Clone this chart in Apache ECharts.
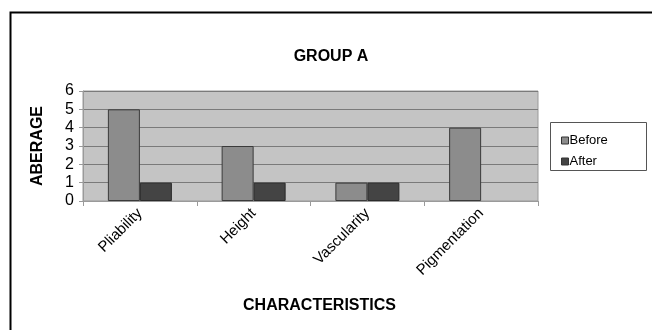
<!DOCTYPE html>
<html>
<head>
<meta charset="utf-8">
<script src="https://cdn.jsdelivr.net/npm/echarts@6/dist/echarts.min.js"></script>
<style>
  html, body { margin: 0; padding: 0; background: #fff; }
  #chart { width: 652px; height: 330px; }
</style>
</head>
<body>
<div id="chart"></div>
<script>
// Scar characteristics, mean scores before and after treatment
const categories = ['Pliability', 'Height', 'Vascularity', 'Pigmentation'];
const beforeValues = [5, 3, 1, 4];
const afterValues = [1, 1, 1, 0];
const yTicks = [0, 1, 2, 3, 4, 5, 6];

const chart = echarts.init(document.getElementById('chart'), null, { renderer: 'canvas' });

const font = 'Arial, "Liberation Sans", sans-serif';

// zero-height bars are left undrawn (no outline)
const asBarData = values => values.map(v => (v === 0 ? { value: v, itemStyle: { borderWidth: 0, opacity: 0 } } : v));

chart.setOption({
  animation: false,
  backgroundColor: '#ffffff',
  title: {
    text: 'GROUP A',
    left: 326,
    top: 44,
    textAlign: 'center',
    textStyle: { fontFamily: font, fontSize: 16, fontWeight: 'bold', color: '#000' }
  },
  legend: {
    orient: 'vertical',
    left: 556,
    top: 129,
    itemWidth: 7,
    itemHeight: 7,
    itemGap: 8,
    icon: 'rect',
    itemStyle: { borderColor: '#333', borderWidth: 1 },
    textStyle: { fontFamily: font, fontSize: 13, color: '#000', padding: [0, 0, 0, -4] },
    data: ['Before', 'After']
  },
  grid: {
    left: 83,
    top: 91,
    width: 455,
    height: 110,
    show: true,
    backgroundColor: '#c4c4c4',
    borderColor: '#9a9a9a',
    borderWidth: 1
  },
  xAxis: {
    type: 'category',
    data: categories,
    name: 'CHARACTERISTICS',
    nameLocation: 'middle',
    nameGap: 97,
    nameTextStyle: { fontFamily: font, fontSize: 16, fontWeight: 'bold', color: '#000', padding: [0, 0, 0, 18] },
    axisLine: { show: true, lineStyle: { color: '#9a9a9a' } },
    axisTick: { show: true, length: 5, lineStyle: { color: '#9a9a9a' } },
    axisLabel: {
      rotate: 45,
      margin: 10,
      fontFamily: font,
      fontSize: 15,
      color: '#000'
    }
  },
  yAxis: {
    type: 'value',
    min: yTicks[0],
    max: yTicks[yTicks.length - 1],
    interval: 1,
    name: 'ABERAGE',
    nameLocation: 'middle',
    nameGap: 37,
    nameRotate: 90,
    nameTextStyle: { fontFamily: font, fontSize: 16, fontWeight: 'bold', color: '#000' },
    axisLine: { show: true, lineStyle: { color: '#9a9a9a' } },
    axisTick: { show: true, length: 4, lineStyle: { color: '#9a9a9a' } },
    axisLabel: { margin: 9, fontFamily: font, fontSize: 16, color: '#000' },
    splitLine: { show: true, lineStyle: { color: '#7a7a7a', width: 1 } }
  },
  series: [
    {
      name: 'Before',
      type: 'bar',
      data: asBarData(beforeValues),
      barWidth: 32,
      barGap: '0%',
      barCategoryGap: '43%',
      itemStyle: { color: '#8c8c8c', borderColor: '#3a3a3a', borderWidth: 1 }
    },
    {
      name: 'After',
      type: 'bar',
      data: asBarData(afterValues),
      barWidth: 32,
      itemStyle: { color: '#444444', borderColor: '#2a2a2a', borderWidth: 1 }
    }
  ],
  graphic: [
    // outer frame: top and left edges
    {
      type: 'polyline',
      shape: { points: [[10.5, 330], [10.5, 12.5], [652, 12.5]] },
      style: { stroke: '#000', lineWidth: 2, fill: null }
    },
    // legend box
    {
      type: 'rect',
      shape: { x: 550.5, y: 122.5, width: 96, height: 48 },
      style: { stroke: '#555', lineWidth: 1, fill: '#fff' },
      z: -1
    }
  ]
});
</script>
</body>
</html>
